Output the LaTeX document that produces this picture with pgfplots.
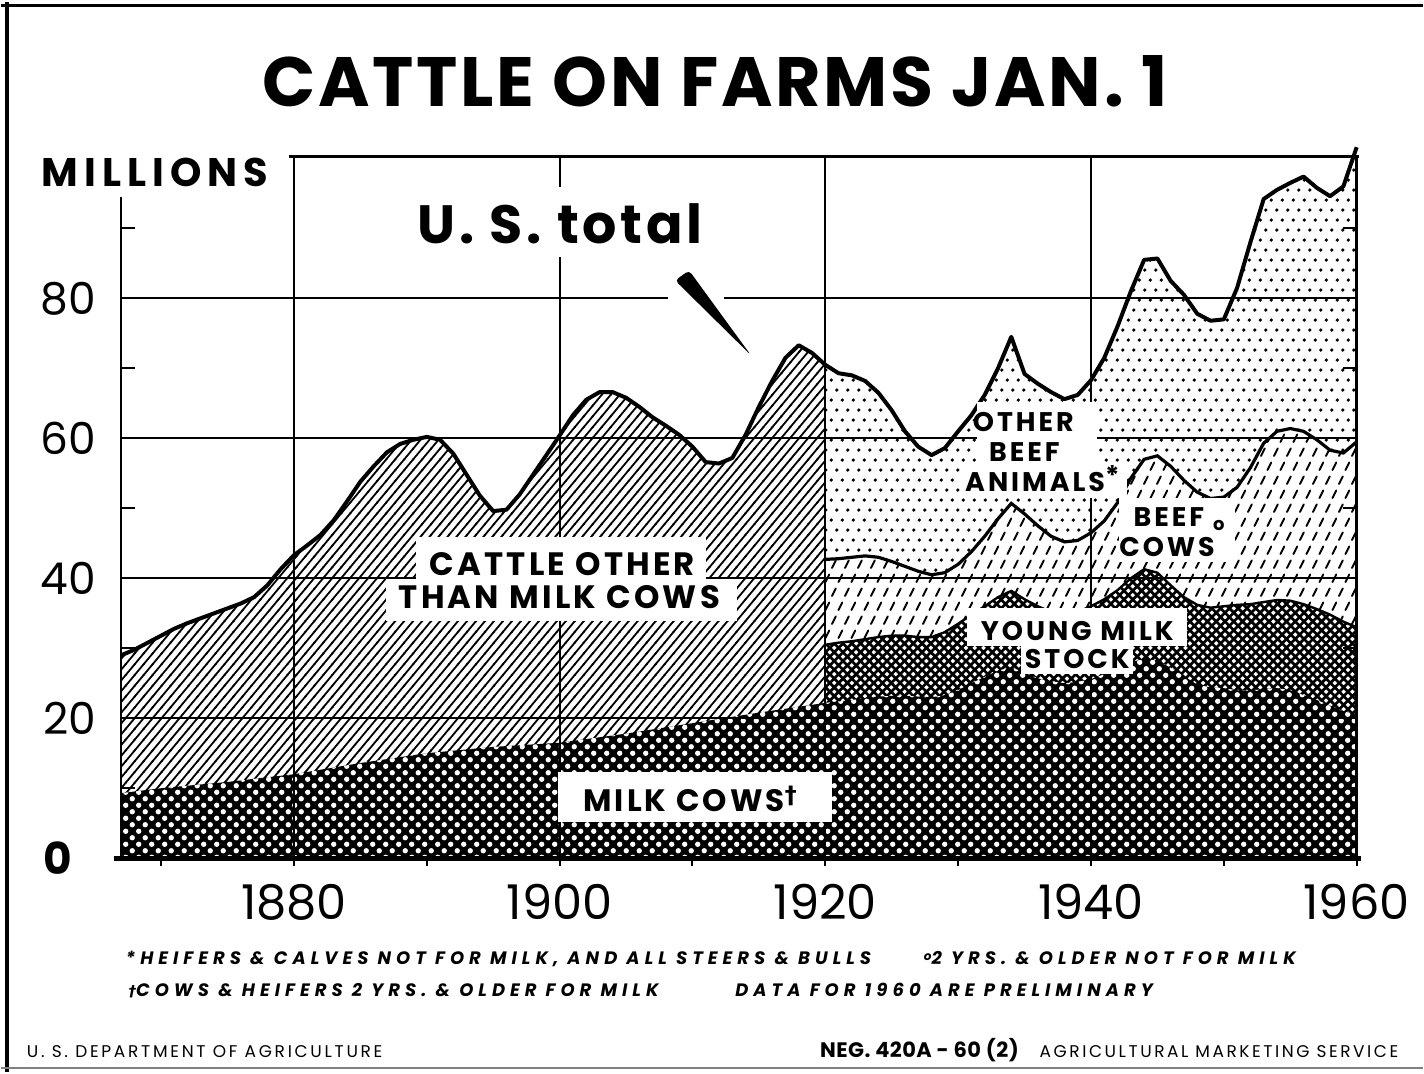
\documentclass[border=0pt]{standalone}
\usepackage{fontspec}
\setmainfont{Poppins}
\newfontfamily\djv{DejaVu Sans}
\usepackage{pgfplots}
\pgfplotsset{compat=1.18}
\usepackage{pgfplotstable}
\usetikzlibrary{patterns}

\pgfdeclarepatternformonly{hatchne}{\pgfqpoint{-1pt}{-1pt}}{\pgfqpoint{5.5pt}{6.4pt}}{\pgfqpoint{4.5pt}{5.4pt}}{%
  \pgfsetlinewidth{0.9pt}\pgfsetrectcap
  \pgfpathmoveto{\pgfqpoint{0pt}{0pt}}\pgfpathlineto{\pgfqpoint{4.5pt}{5.4pt}}\pgfusepath{stroke}}
\pgfdeclarepatternformonly{sdots}{\pgfqpoint{0pt}{0pt}}{\pgfqpoint{5.5pt}{10pt}}{\pgfqpoint{5.5pt}{10pt}}{%
  \pgfpathcircle{\pgfqpoint{1.4pt}{2.5pt}}{0.9pt}\pgfpathcircle{\pgfqpoint{4.15pt}{7.5pt}}{0.9pt}\pgfusepath{fill}}
\pgfdeclarepatternformonly{bdash}{\pgfqpoint{0pt}{0pt}}{\pgfqpoint{6.5pt}{14pt}}{\pgfqpoint{6.5pt}{14pt}}{%
  \pgfsetlinewidth{0.95pt}\pgfsetroundcap
  \pgfpathmoveto{\pgfqpoint{1.0pt}{1.5pt}}\pgfpathlineto{\pgfqpoint{2.9pt}{5.3pt}}
  \pgfpathmoveto{\pgfqpoint{4.25pt}{8.5pt}}\pgfpathlineto{\pgfqpoint{6.15pt}{12.3pt}}
  \pgfusepath{stroke}}
\pgfdeclarepatternformonly{xhatch}{\pgfqpoint{-1pt}{-1pt}}{\pgfqpoint{5.4pt}{5.4pt}}{\pgfqpoint{4.4pt}{4.4pt}}{%
  \pgfsetlinewidth{1.35pt}\pgfsetrectcap
  \pgfpathmoveto{\pgfqpoint{0pt}{0pt}}\pgfpathlineto{\pgfqpoint{4.4pt}{4.4pt}}
  \pgfpathmoveto{\pgfqpoint{0pt}{4.4pt}}\pgfpathlineto{\pgfqpoint{4.4pt}{0pt}}
  \pgfusepath{stroke}}
\pgfdeclarepatternformonly{wdots}{\pgfqpoint{0pt}{0pt}}{\pgfqpoint{6.5pt}{6.5pt}}{\pgfqpoint{6.5pt}{6.5pt}}{%
  \pgfpathcircle{\pgfqpoint{1.625pt}{1.625pt}}{1.35pt}\pgfpathcircle{\pgfqpoint{4.875pt}{4.875pt}}{1.35pt}\pgfusepath{fill}}

% U.S. total, all cattle on farms Jan. 1 (millions)
\pgfplotstableread{
year total
1867 29.0
1868 29.8
1869 30.8
1870 31.8
1871 32.8
1872 33.6
1873 34.3
1874 35.0
1875 35.7
1876 36.4
1877 37.3
1878 39.0
1879 41.3
1880 43.3
1881 44.7
1882 46.2
1883 48.3
1884 51.0
1885 53.8
1886 56.0
1887 58.0
1888 59.2
1889 59.8
1890 60.2
1891 59.8
1892 57.8
1893 54.8
1894 51.8
1895 49.6
1896 49.8
1897 52.0
1898 54.8
1899 57.6
1900 60.4
1901 63.3
1902 65.5
1903 66.6
1904 66.6
1905 65.8
1906 64.5
1907 63.0
1908 61.8
1909 60.5
1910 58.8
1911 56.6
1912 56.4
1913 57.2
1914 60.5
1915 64.5
1916 68.2
1917 71.5
1918 73.3
1919 72.2
1920 70.5
1921 69.3
1922 69.0
1923 68.2
1924 66.5
1925 64.0
1926 61.0
1927 58.8
1928 57.6
1929 58.6
1930 61.0
1931 63.3
1932 66.2
1933 70.0
1934 74.5
1935 69.2
1936 67.8
1937 66.6
1938 65.6
1939 66.2
1940 68.3
1941 71.5
1942 76.0
1943 81.0
1944 85.5
1945 85.7
1946 82.5
1947 80.5
1948 77.8
1949 76.8
1950 77.0
1951 81.5
1952 88.0
1953 94.2
1954 95.5
1955 96.5
1956 97.4
1957 95.8
1958 94.6
1959 96.0
1960 101.6
}\totaltab

% cumulative tops after 1920: beef cows (on top of young milk stock), young milk stock (on top of milk cows)
\pgfplotstableread{
year beef young
1920 42.7 30.5
1921 42.8 30.8
1922 43.0 31.0
1923 43.2 31.3
1924 43.0 31.6
1925 42.4 31.8
1926 41.7 31.8
1927 41.0 31.6
1928 40.5 31.6
1929 40.8 32.3
1930 42.0 33.5
1931 43.8 34.8
1932 46.0 36.0
1933 48.5 37.3
1934 50.7 38.2
1935 49.2 37.0
1936 47.5 36.0
1937 46.0 35.2
1938 45.2 34.8
1939 45.4 35.2
1940 46.5 36.0
1941 48.2 37.0
1942 50.8 38.3
1943 54.3 40.0
1944 57.0 41.3
1945 57.5 40.8
1946 56.0 39.0
1947 54.0 37.3
1948 52.3 36.2
1949 51.4 35.8
1950 51.6 36.0
1951 53.0 36.2
1952 55.8 36.3
1953 59.3 36.6
1954 61.0 36.9
1955 61.4 36.8
1956 61.0 36.3
1957 59.8 35.6
1958 58.3 34.8
1959 57.9 33.8
1960 59.5 33.0
}\posttab

% milk cows
\pgfplotstableread{
year milk
1867 9.3
1870 10.0
1875 10.9
1880 12.0
1885 13.6
1890 15.0
1895 15.9
1900 16.5
1905 17.8
1910 19.3
1915 20.8
1920 22.2
1921 22.4
1922 22.6
1923 22.9
1924 23.1
1925 23.2
1926 23.2
1927 23.1
1928 23.0
1929 23.3
1930 24.0
1931 25.0
1932 25.9
1933 26.8
1934 27.3
1935 26.5
1936 25.7
1937 25.3
1938 25.0
1939 25.2
1940 25.6
1941 26.3
1942 27.2
1943 28.0
1944 28.5
1945 28.3
1946 27.2
1947 26.0
1948 24.8
1949 24.4
1950 24.3
1951 24.0
1952 23.9
1953 24.2
1954 24.3
1955 24.0
1956 23.3
1957 22.6
1958 21.8
1959 21.0
1960 20.5
}\milktab

\begin{document}
\begin{tikzpicture}
\begin{scope}[x=0.5pt,y=-0.5pt,yshift=536pt]
\useasboundingbox (0,0) rectangle (1424,1072);
\end{scope}

\begin{axis}[
  at={(60pt,107pt)}, anchor=south west,
  scale only axis, width=619pt, height=351.5pt,
  xmin=1867, xmax=1960, ymin=0, ymax=100.25,
  clip=false, axis on top,
  axis line style={draw=none},
  xtick={1880,1900,1920,1940,1960},
  xticklabels={1880,1900,1920,1940,1960},
  ytick={0,20,40,60,80},
  yticklabels={\textbf{0}\kern12pt,20,40,60,80},
  minor ytick={10,30,50,70,90},
  grid=major,
  major grid style={line width=1pt, black},
  tick align=inside,
  xtick pos=left, ytick pos=both,
  major tick length=0pt, minor tick length=7pt,
  tick style={black, line width=1pt},
  x tick label style={font=\fontsize{24}{26}\selectfont, anchor=north, inner sep=0pt, yshift=-13pt},
  y tick label style={font=\fontsize{22}{24}\selectfont, anchor=east, inner sep=0pt, xshift=-12.5pt},
]
% cattle other than milk cows (to 1920)
\addplot[draw=none, preaction={fill=white}, pattern=hatchne, restrict x to domain=1867:1920]
  table[x=year, y=total] {\totaltab} \closedcycle;
% other beef animals (1920 on)
\addplot[draw=none, preaction={fill=white}, pattern=sdots, restrict x to domain=1920:1960]
  table[x=year, y=total] {\totaltab} \closedcycle;
% beef cows
\addplot[draw=none, preaction={fill=white}, pattern=bdash]
  table[x=year, y=beef] {\posttab} \closedcycle;
% young milk stock
\addplot[draw=none, preaction={fill=white}, pattern=xhatch]
  table[x=year, y=young] {\posttab} \closedcycle;
% milk cows
\addplot[draw=none, preaction={fill=black}, pattern=wdots, pattern color=white]
  table[x=year, y=milk] {\milktab} \closedcycle;
% boundary lines
\addplot[black, line width=1.2pt] table[x=year, y=young] {\posttab};
\addplot[black, line width=1.6pt] table[x=year, y=beef] {\posttab};
\addplot[black, line width=2pt, line join=round] table[x=year, y=total] {\totaltab};
\end{axis}

\begin{scope}[x=0.5pt,y=-0.5pt,yshift=536pt]
% page border
\draw[line width=2pt] (6,0) -- (6,1072);
\draw[line width=1.5pt] (0,4) -- (1424,4);
\draw[line width=1pt, gray] (0,1068) -- (1424,1068);
% frame of the plot
\draw[line width=1.2pt] (120,195) -- (120,858);
\draw[line width=1.2pt] (288,155) -- (1360,155);
\draw[line width=1.2pt] (1358,155) -- (1358,858);
\draw[line width=2.5pt] (113,858) -- (1362,858);
\foreach \yr in {1870,1880,...,1960} \draw[line width=1pt] ({120+(\yr-1867)*13.312},858) -- ++(0,8);

% title and unit
\node[anchor=base, inner sep=0pt, font=\bfseries\fontsize{35}{40}\selectfont\addfontfeatures{LetterSpace=4}] at (715,105) {CATTLE ON FARMS JAN. 1};
\node[anchor=base west, inner sep=0pt, font=\bfseries\fontsize{20}{22}\selectfont\addfontfeatures{LetterSpace=15}] at (40,185) {MILLIONS};

% U.S. total
\fill[white] (400,185) rectangle (720,256);
\fill[white] (668,289) rectangle (724,305);
\node[anchor=base, inner sep=0pt, font=\bfseries\fontsize{27}{30}\selectfont\addfontfeatures{LetterSpace=7}] at (560,242) {U. S. total};
\fill[black, rounded corners=2pt] (675,279) -- (689,269) -- (751,354) -- cycle;

% area labels
\fill[white] (415,536) rectangle (706,579);
\fill[white] (385,578) rectangle (737,620);
\node[anchor=base, inner sep=0pt, font=\bfseries\fontsize{16.2}{17}\selectfont\addfontfeatures{LetterSpace=10}] at (562,575) {CATTLE OTHER};
\node[anchor=base, inner sep=0pt, font=\bfseries\fontsize{16.2}{17}\selectfont\addfontfeatures{LetterSpace=10}] at (559,608) {THAN MILK COWS};

\fill[white] (558,772) rectangle (832,822);
\node[anchor=base, inner sep=0pt, font=\bfseries\fontsize{15.5}{17}\selectfont\addfontfeatures{LetterSpace=10}] at (690,811) {MILK COWS\raisebox{4pt}{\djv\fontsize{12}{12}\selectfont†}};

\fill[white] (978,401) rectangle (1098,466);
\fill[white] (962,464) rectangle (1128,497);
\node[anchor=base, inner sep=0pt, font=\bfseries\fontsize{13.5}{15}\selectfont\addfontfeatures{LetterSpace=11}] at (1024,430) {OTHER};
\node[anchor=base, inner sep=0pt, font=\bfseries\fontsize{13.5}{15}\selectfont\addfontfeatures{LetterSpace=11}] at (1025,460) {BEEF};
\node[anchor=base, inner sep=0pt, font=\bfseries\fontsize{13.5}{15}\selectfont\addfontfeatures{LetterSpace=11}] at (1043,491) {ANIMALS\raisebox{3pt}{*}};

\fill[white] (1120,497) rectangle (1236,561);
\node[anchor=base, inner sep=0pt, font=\bfseries\fontsize{13.5}{15}\selectfont\addfontfeatures{LetterSpace=11}] at (1180,526) {BEEF\,\,\raisebox{-2pt}{\fontsize{9}{9}\selectfont o}};
\node[anchor=base, inner sep=0pt, font=\bfseries\fontsize{13.5}{15}\selectfont\addfontfeatures{LetterSpace=11}] at (1168,556) {COWS};

\fill[white] (968,607) rectangle (1188,645);
\fill[white] (1022,640) rectangle (1134,673);
\node[anchor=base, inner sep=0pt, font=\bfseries\fontsize{13.5}{15}\selectfont\addfontfeatures{LetterSpace=11}] at (1078,640) {YOUNG MILK};
\node[anchor=base, inner sep=0pt, font=\bfseries\fontsize{13.5}{15}\selectfont\addfontfeatures{LetterSpace=11}] at (1078,668) {STOCK};

% footnotes
\begin{scope}[every node/.style={anchor=base west, inner sep=0pt, font=\bfseries\itshape\fontsize{9}{10}\selectfont\addfontfeatures{LetterSpace=28}}]
\node at (124,965) {*HEIFERS \& CALVES NOT FOR MILK, AND ALL STEERS \& BULLS};
\node at (924,965) {\raisebox{2pt}{\fontsize{6}{6}\selectfont o}2 YRS. \& OLDER NOT FOR MILK};
\node at (127,997) {{\djv\fontsize{7.5}{7.5}\selectfont †}COWS \& HEIFERS 2 YRS. \& OLDER FOR MILK};
\node at (735,997) {DATA FOR 1960 ARE PRELIMINARY};
\end{scope}
\node[anchor=base west, inner sep=0pt, font=\fontsize{8.5}{10}\selectfont\addfontfeatures{LetterSpace=16}] at (25,1058) {U. S. DEPARTMENT OF AGRICULTURE};
\node[anchor=base west, inner sep=0pt, font=\bfseries\fontsize{10.5}{11}\selectfont\addfontfeatures{LetterSpace=2}] at (820,1058) {NEG. 420A - 60 (2)};
\node[anchor=base west, inner sep=0pt, font=\fontsize{8.5}{10}\selectfont\addfontfeatures{LetterSpace=15}] at (1040,1058) {AGRICULTURAL MARKETING SERVICE};
\end{scope}
\end{tikzpicture}
\end{document}
